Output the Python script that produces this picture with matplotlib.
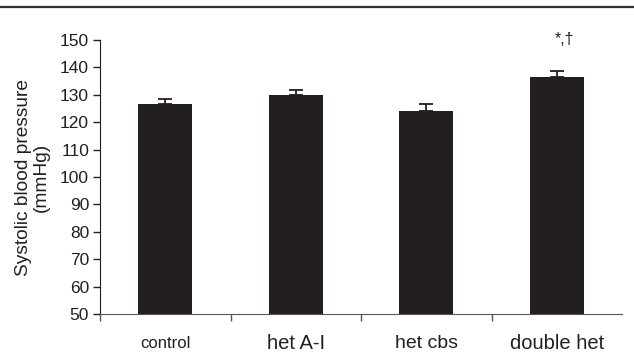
import numpy as np
import matplotlib
matplotlib.use("Agg")
from matplotlib import pyplot as plt
from matplotlib.lines import Line2D

groups = ["control", "het A-I", "het cbs", "double het"]
label_sizes = [12, 14.5, 14, 14.5]
sbp = [126.5, 130.0, 124.0, 136.5]
sem = [2.0, 1.8, 2.8, 2.0]
star_text = "*,\u2020"

plt.rcParams['font.family'] = ['Liberation Sans', 'DejaVu Sans']

fig = plt.figure(figsize=(6.34, 3.53), dpi=100)
ax = fig.add_axes([0.158, 0.110, 0.823, 0.777])

x = np.arange(len(groups))
col = '#231f20'
ax.bar(x, sbp, width=0.415, bottom=0, color=col, zorder=2)
ax.errorbar(x, sbp, yerr=[np.zeros(len(sem)), sem], fmt='none', ecolor=col,
            elinewidth=1.3, capsize=5, capthick=1.3, zorder=1)

ax.set_ylim(50, 150)
ax.set_xlim(-0.5, len(groups) - 0.5)
ax.set_yticks(np.arange(50, 151, 10))
ax.tick_params(axis='y', labelsize=12.5, direction='out', length=5, width=1, pad=3,
               colors=col)
ax.set_xticks(np.arange(-0.5, len(groups) - 0.5, 1.0))
ax.set_xticklabels([])
ax.tick_params(axis='x', direction='out', length=5, width=1, colors='#555555')
for i, (g, s) in enumerate(zip(groups, label_sizes)):
    ax.text(i, 39.4, g, ha='center', va='center', fontsize=s, color=col, clip_on=False)

ax.spines['top'].set_visible(False)
ax.spines['right'].set_visible(False)
ax.spines['left'].set_color(col)
ax.spines['bottom'].set_color('#555555')

ax.set_ylabel("Systolic blood pressure\n(mmHg)", fontsize=13.8, color=col, labelpad=7,
              linespacing=1.1)

ax.text(3.06, 150.3, star_text, ha='center', va='center', fontsize=11.5, color=col)

fig.add_artist(Line2D([0, 1], [0.980, 0.980], transform=fig.transFigure,
                      color='#333333', linewidth=1.6))

fig.savefig("out.png", dpi=100)
